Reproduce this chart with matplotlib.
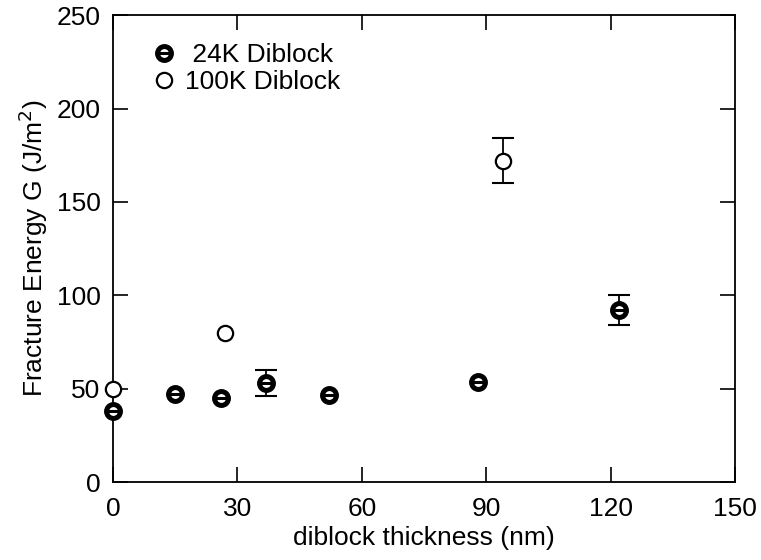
import matplotlib
matplotlib.use('Agg')
import matplotlib.pyplot as plt
import numpy as np
from matplotlib.lines import Line2D
from matplotlib.legend_handler import HandlerTuple

plt.rcParams['font.family'] = ['Liberation Sans', 'DejaVu Sans']

# 24K diblock
t24 = np.array([0, 15, 26, 37, 52, 88, 122])
g24 = np.array([38, 47, 45, 53, 46.5, 53.5, 92])
e24 = np.array([0, 0, 0, 7, 0, 0, 8])

# 100K diblock
t100 = np.array([0, 27, 94])
g100 = np.array([50, 80, 172])
e100 = np.array([0, 0, 12])

xticks = [0, 30, 60, 90, 120, 150]
yticks = [0, 50, 100, 150, 200, 250]

fig = plt.figure(figsize=(7.61, 5.60), dpi=100)
ax = fig.add_axes([0.1485, 0.139, 0.8175, 0.834])

# error bars (only where there is one)
m = e24 > 0
ax.errorbar(t24[m], g24[m], yerr=e24[m], fmt='none', ecolor='black',
            elinewidth=1.3, capsize=8, capthick=1.5, zorder=2)
m = e100 > 0
ax.errorbar(t100[m], g100[m], yerr=e100[m], fmt='none', ecolor='black',
            elinewidth=1.3, capsize=8, capthick=1.5, zorder=2)

ring = dict(marker='o', ms=10, mfc='white', mec='black', mew=3.6, ls='none')
bar = dict(marker='_', ms=7, mec='black', mew=2.2, ls='none')
hollow = dict(marker='o', ms=11, mfc='white', mec='black', mew=1.6, ls='none')

# 100K: open circles
ax.plot(t100, g100, clip_on=False, zorder=3, **hollow)
# 24K: heavy ring with a bar
ax.plot(t24, g24, clip_on=False, zorder=3, **ring)
ax.plot(t24, g24, clip_on=False, zorder=4, **bar)

ax.set_xlim(0, 150)
ax.set_ylim(0, 250)
ax.set_xticks(xticks)
ax.set_yticks(yticks)
ax.tick_params(direction='in', length=11, width=1.2, top=True, right=True,
               labelsize=19)
ax.tick_params(axis='x', pad=11)
ax.tick_params(axis='y', pad=9)
for s in ax.spines.values():
    s.set_linewidth(1.3)

ax.set_xlabel('diblock thickness (nm)', fontsize=19, labelpad=3)
ax.set_ylabel('Fracture Energy G (J/m$^2$)', fontsize=19, labelpad=5)

h24 = (Line2D([], [], **ring), Line2D([], [], **bar))
h100 = Line2D([], [], **hollow)
ax.legend([h24, h100], [' 24K Diblock', '100K Diblock'], loc='upper left',
          bbox_to_anchor=(0.061, 0.94), frameon=False, fontsize=19,
          borderpad=0, borderaxespad=0,
          handlelength=1.0, handletextpad=0.3, labelspacing=0.1,
          handler_map={tuple: HandlerTuple(ndivide=1, pad=0)})

fig.savefig('out.png', dpi=100)
